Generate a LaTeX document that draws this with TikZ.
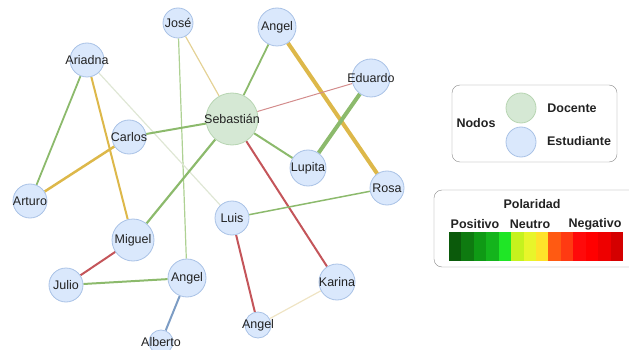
\documentclass[tikz,border=0pt]{standalone}
\usepackage{fontspec}
\setmainfont{Liberation Sans}
\usetikzlibrary{backgrounds}
\definecolor{estfill}{HTML}{DAE8FC}
\definecolor{estdraw}{HTML}{A9C2E6}
\definecolor{docfill}{HTML}{D5E8D4}
\definecolor{docdraw}{HTML}{B7D5B2}
\definecolor{posgreen}{HTML}{8CBA6C}
\definecolor{lightgreen}{HTML}{AED193}
\definecolor{paleyellow}{HTML}{E4D296}
\definecolor{paleline}{HTML}{DFE7D5}
\definecolor{goldline}{HTML}{DDB84A}
\definecolor{negred}{HTML}{C4555A}
\definecolor{pinkline}{HTML}{D38C8C}
\definecolor{creamline}{HTML}{EFE4C4}
\definecolor{blueline}{HTML}{7C9CC4}
\definecolor{legdraw}{HTML}{8A8A8A}
\definecolor{txt}{HTML}{222222}

\begin{document}
\begin{tikzpicture}[x=1pt,y=-1pt,
  font=\fontsize{12.5}{14}\selectfont, text=txt,
  est/.style={circle, draw=estdraw, fill=estfill, line width=0.8pt, inner sep=0pt},
  doc/.style={circle, draw=docdraw, fill=docfill, line width=0.8pt, inner sep=0pt},
  lbl/.style={font=\fontsize{12.5}{14}\selectfont\bfseries}]
  \clip (0,0) rectangle (629,350);

  \node[est, minimum size=30, label=center:José]      (jose)     at (178,23)  {};
  \node[est, minimum size=38, label=center:Angel]     (angelA)   at (277,27)  {};
  \node[est, minimum size=34, label=center:Ariadna]   (ariadna)  at (87,60)   {};
  \node[doc, minimum size=52, label=center:Sebastián] (sebastian) at (232,119) {};
  \node[est, minimum size=34, label=center:Carlos]    (carlos)   at (129,137) {};
  \node[est, minimum size=36, label=center:Lupita]    (lupita)   at (308,168) {};
  \node[est, minimum size=38, label=center:Eduardo]   (eduardo)  at (371,78)  {};
  \node[est, minimum size=34, label=center:Rosa]      (rosa)     at (387,188) {};
  \node[est, minimum size=34, label=center:Arturo]    (arturo)   at (30,201)  {};
  \node[est, minimum size=42, label=center:Miguel]    (miguel)   at (133,240) {};
  \node[est, minimum size=34, label=center:Luis]      (luis)     at (232,218) {};
  \node[est, minimum size=34, label=center:Julio]     (julio)    at (66,285)  {};
  \node[est, minimum size=38, label=center:Angel]     (angelB)   at (187,278) {};
  \node[est, minimum size=36, label=center:Karina]    (karina)   at (337,282) {};
  \node[est, minimum size=26, label=center:Angel]     (angelC)   at (258,325) {};
  \node[est, minimum size=24, label=center:Alberto]   (alberto)  at (161,342) {};

  \begin{scope}[on background layer]
    \draw[lightgreen, line width=1.2pt] (jose) -- (angelB);
    \draw[paleyellow, line width=1.2pt] (jose) -- (sebastian);
    \draw[posgreen, line width=1.8pt]   (angelA) -- (sebastian);
    \draw[goldline, line width=4pt]     (angelA) -- (rosa);
    \draw[posgreen, line width=1.8pt]   (ariadna) -- (arturo);
    \draw[goldline, line width=2pt]     (ariadna) -- (miguel);
    \draw[paleline, line width=1.2pt]   (ariadna) -- (luis);
    \draw[posgreen, line width=2pt]     (carlos) -- (sebastian);
    \draw[goldline, line width=2.5pt]   (carlos) -- (arturo);
    \draw[pinkline, line width=1pt]     (sebastian) -- (eduardo);
    \draw[posgreen, line width=2pt]     (sebastian) -- (lupita);
    \draw[posgreen, line width=2.2pt]   (sebastian) -- (miguel);
    \draw[negred, line width=2pt]       (sebastian) -- (karina);
    \draw[posgreen, line width=4pt]     (eduardo) -- (lupita);
    \draw[posgreen, line width=1.5pt]   (luis) -- (rosa);
    \draw[negred, line width=2pt]       (luis) -- (angelC);
    \draw[creamline, line width=1.2pt]  (karina) -- (angelC);
    \draw[negred, line width=2pt]       (miguel) -- (julio);
    \draw[posgreen, line width=2pt]     (julio) -- (angelB);
    \draw[blueline, line width=2pt]     (angelB) -- (alberto);
  \end{scope}

  \draw[legdraw, rounded corners=8] (452,85) rectangle (617,162);
  \node[lbl] (nodos) at (476,123) {Nodos};
  \node[doc, minimum size=30] (legdoc) at (521,108) {};
  \node[est, minimum size=30] (legest) at (521,142) {};
  \node[lbl] (docente) at (572,108) {Docente};
  \node[lbl] (estudiante) at (579,141) {Estudiante};

  \draw[legdraw, rounded corners=8] (434,190) rectangle (660,267);
  \node[lbl] (polaridad) at (532,204) {Polaridad};
  \node[lbl] (positivo) at (475,224) {Positivo};
  \node[lbl] (neutro) at (530,224) {Neutro};
  \node[lbl] (negativo) at (595,224) {Negativo};
  \foreach \c [count=\i from 0] in {0B5A0B,0E7A10,0F9A15,14B41C,1FE626,C5F21E,E8F52A,FFE22A,FF5A12,FF3A12,FF0A0A,FF0000,EE0000,D40000}{
    \definecolor{barcol}{HTML}{\c}
    \fill[barcol] (449+\i*12.43,232) rectangle (449+\i*12.43+12.6,261);
  }
\end{tikzpicture}
\end{document}
